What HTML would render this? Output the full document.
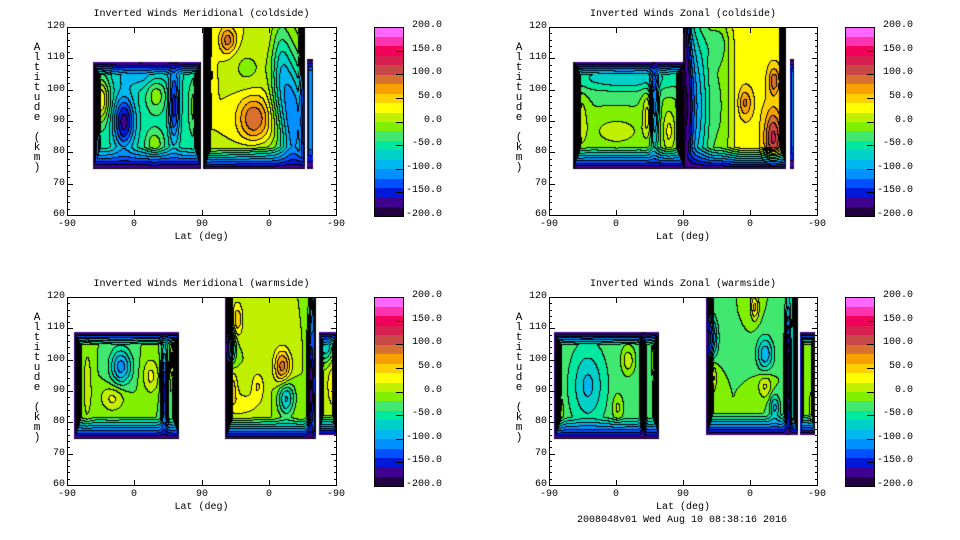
<!DOCTYPE html>
<html><head><meta charset="utf-8"><style>
body{margin:0;background:#fff;width:960px;height:540px;position:relative;overflow:hidden;font-family:"Liberation Mono",monospace;font-size:10px;color:#000}
.a{position:absolute;white-space:nowrap;line-height:10px}
canvas{position:absolute}
.frame{position:absolute;border:1px solid #000;box-sizing:border-box}
</style></head><body>
<div id="root"></div>
<script>
const levelColors=["#200040","#400090","#0018d8","#0050ff","#0090ff","#00b8f0","#00d0c8","#00e8a0","#40e870","#80f000","#c0f000","#ffff00","#ffd000","#f8a000","#d87030","#c84848","#d82050","#f0005a","#ff33b0","#ff66ff"];
const cbTickLabels=["200.0","150.0","100.0","50.0","0.0","-50.0","-100.0","-150.0","-200.0"];
const cbTickValues=[200,150,100,50,0,-50,-100,-150,-200];
const xTickLabels=["-90","0","90","0","-90"];
const xTickPos=[0,90,180,270,360];
const yTickValues=[60,70,80,90,100,110,120];
// regions: [p0,p1,alt0,alt1,base]
const tlRegions=[[34,178,75,109,-50],[182,318,75,120,20],[320,329,75,110,-110]];
// blobs: [region, p, alt, amp, sigmaP, sigmaAlt]
const tlBlobs=[[0,44,97,90,8,5],[0,75,90,-120,10,6],[0,118,99,45,9,4],[0,116,83,45,8,3],[0,142,95,-100,5,8],[0,169,95,40,5,6],[0,100,105,-40,30,3],
[1,249,91,80,15,5],[1,214,116,70,8,3],[1,186,105,40,6,5],[1,240,107,-25,18,5],[1,303,90,-130,12,14],[1,285,105,-80,10,12],[1,260,80,-30,30,3]];
const trRegions=[[32,179,75,109,-20],[180,318,75,120,35],[323,328,75,110,-120]];
const trBlobs=[[0,90,87,35,22,3],[0,42,90,35,6,6],[0,132,92,55,5,5],[0,140,95,-100,4,10],[0,160,87,45,6,5],[0,100,104,-55,60,3],
[1,182,95,-170,8,25],[1,200,95,-110,12,25],[1,230,95,-50,12,25],[1,262,96,50,6,3],[1,300,85,90,8,6],[1,301,103,60,5,3],[1,225,115,-30,10,4]];
const blRegions=[[8.5,149,75,109,-20],[211,333,75,120,0],[336,359,76,109,10]];
const blBlobs=[[0,71,98,-90,10,4],[0,60,88,45,12,3],[0,111,95,45,8,4],[0,142,100,85,3,4],[0,129,90,-130,3,10],[0,26,92,30,5,10],
[1,218,92,55,6,4],[1,218,104,-85,5,4],[1,227,113,55,5,4],[1,287,98,90,8,4],[1,292,88,-85,8,4],[1,254,92,40,6,3],[1,232,86,30,20,3],[1,325,92,-180,3,15],
[2,357,93,35,6,5],[2,345,105,-90,8,4]];
const brRegions=[[6,147,75,109,-30],[210,334,76,120,-20],[336,356,76,109,-10]];
const brBlobs=[[0,51,92,-55,15,8],[0,105,100,45,6,3],[0,91,85,35,5,3],[0,12,83,45,4,4],[0,125,92,-170,2,15],[0,140,100,65,2,4],
[1,217,95,55,5,4],[1,217,107,-85,6,5],[1,275,117,65,4,3],[1,289,102,-75,8,4],[1,289,92,45,7,3],[1,302,85,-65,5,3],[1,320,95,-180,3,15],
[2,354,85,30,4,4]];

const panels=[
 {name:"meridional-coldside",title:"Inverted Winds Meridional (coldside)",x:67,y:27,w:269,h:188,cb:374,regions:tlRegions,blobs:tlBlobs},
 {name:"zonal-coldside",title:"Inverted Winds Zonal (coldside)",x:549,y:27,w:268,h:188,cb:845,regions:trRegions,blobs:trBlobs},
 {name:"meridional-warmside",title:"Inverted Winds Meridional (warmside)",x:67,y:297,w:269,h:188,cb:374,regions:blRegions,blobs:blBlobs},
 {name:"zonal-warmside",title:"Inverted Winds Zonal (warmside)",x:549,y:297,w:268,h:188,cb:845,regions:brRegions,blobs:brBlobs}
];
const root=document.getElementById('root');
function txt(s,x,y,name,align){const d=document.createElement('div');d.className='a';d.textContent=s;


d.style.top=y+'px';
if(align==='r'){d.style.right=(960-x)+'px';}else if(align==='c'){d.style.left=x+'px';d.style.transform='translateX(-50%)';}else d.style.left=x+'px';
root.appendChild(d);return d;}
function box(x,y,w,h,bg,name){const d=document.createElement('div');d.style.cssText='position:absolute;left:'+x+'px;top:'+y+'px;width:'+w+'px;height:'+h+'px;background:'+bg;


root.appendChild(d);return d;}
function field(P,p,alt){
 for(let r=0;r<P.regions.length;r++){const R=P.regions[r];
  if(p>=R[0]&&p<=R[1]&&alt>=R[2]&&alt<=R[3]){
   let v=R[4];
   for(const b of P.blobs){if(b[0]!==r)continue;const dp=(p-b[1])/b[4],da=(alt-b[2])/b[5];v+=b[3]*Math.exp(-(dp*dp+da*da)/2);}
   const top=R[3]>=120?9:(R[3]-alt)/4;
   const sw=Math.min(10,(R[1]-R[0])/4);
   const e=Math.min((alt-R[2])/7,top,(p-R[0])/sw,(R[1]-p)/sw,1);
   const s=Math.max(0,e);v=-185+(v+185)*s;return v;}
 }
 return null;
}
function lvl(v){return Math.max(0,Math.min(19,Math.floor((v+200)/20)));}
const toP=(P,v)=>P.x+v/360*P.w, toY=(P,a)=>P.y+(120-a)/60*P.h;
panels.forEach(P=>{
 const c=document.createElement('canvas');c.width=P.w;c.height=P.h;c.style.left=P.x+'px';c.style.top=P.y+'px';
 
 
 root.appendChild(c);
 const ctx=c.getContext('2d');const L=[];
 for(let y=0;y<P.h;y++){L.push([]);for(let x=0;x<P.w;x++){const v=field(P,x/P.w*360,120-y/P.h*60);L[y].push(v===null?-1:lvl(v));}}
 const img=ctx.createImageData(P.w,P.h);
 const rgb=levelColors.map(h=>[parseInt(h.substr(1,2),16),parseInt(h.substr(3,2),16),parseInt(h.substr(5,2),16)]);
 for(let y=0;y<P.h;y++)for(let x=0;x<P.w;x++){const i=(y*P.w+x)*4;const l=L[y][x];let col=[255,255,255];
  if(l>=0){col=rgb[l];
   const lft=x>0?L[y][x-1]:-1,up=y>0?L[y-1][x]:-1;
   if((lft>=0&&lft!==l)||(up>=0&&up!==l))col=[0,0,0];}
  img.data[i]=col[0];img.data[i+1]=col[1];img.data[i+2]=col[2];img.data[i+3]=255;}
 ctx.putImageData(img,0,0);
 const f=document.createElement('div');f.className='frame';f.style.cssText+='left:'+P.x+'px;top:'+P.y+'px;width:'+(P.w+1)+'px;height:'+(P.h+1)+'px';
 
 
 root.appendChild(f);
 txt(P.title,P.x+P.w/2,P.y-17,P.name+'-title','c');
 for(let a=60;a<=120;a+=2){const y=Math.round(toY(P,a));const len=(a%10===0)?6:3;
  box(P.x,y,len,1,'#000',P.name+'-y-tick-left');box(P.x+P.w+1-len,y,len,1,'#000',P.name+'-y-tick-right');}
 yTickValues.forEach(a=>txt(String(a),P.x-2,toY(P,a)-5,P.name+'-y-tick-label','r'));
 xTickPos.forEach((v,i)=>{const x=Math.round(toP(P,v));box(x,P.y+P.h-5,1,6,'#000',P.name+'-x-tick-bottom');box(x,P.y,1,6,'#000',P.name+'-x-tick-top');
  txt(xTickLabels[i],x,P.y+P.h+5,P.name+'-x-tick-label','c');});
 txt('Lat (deg)',P.x+P.w/2,P.y+P.h+18,P.name+'-x-axis-title','c');
 const yl=document.createElement('div');yl.className='a';yl.style.cssText+='left:'+(P.x-35)+'px;top:'+(P.y+16)+'px;width:10px;white-space:normal;text-align:center;line-height:10px;font-size:11px';
 yl.innerHTML='A<br>l<br>t<br>i<br>t<br>u<br>d<br>e<br>&nbsp;<br>(<br>k<br>m<br>)';
 
 
 root.appendChild(yl);
 const cbH=P.h+1,bandH=cbH/20;
 for(let k=0;k<20;k++){box(P.cb,P.y+cbH-(k+1)*bandH,29,bandH+0.5,levelColors[k],P.name+'-colorbar-band');}
 const cf=document.createElement('div');cf.className='frame';cf.style.cssText+='left:'+P.cb+'px;top:'+P.y+'px;width:30px;height:'+(cbH+1)+'px';
 
 
 root.appendChild(cf);
 cbTickValues.forEach((v,i)=>{const y=P.y+(200-v)/400*cbH;box(P.cb+22,Math.round(y),7,1,'#000',P.name+'-colorbar-tick');
  txt(cbTickLabels[i],P.cb+68,y-6,P.name+'-colorbar-label','r');});
});
txt('2008048v01 Wed Aug 10 08:38:16 2016',682,516,'timestamp-footer','c');
</script>
</body></html>
